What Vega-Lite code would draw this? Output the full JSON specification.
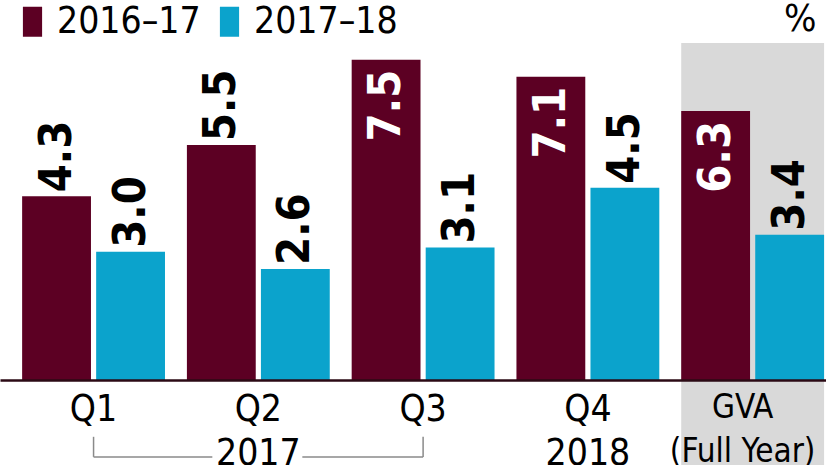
{
  "$schema": "https://vega.github.io/schema/vega-lite/v6.json",
  "width": 826,
  "height": 337,
  "autosize": {"type": "none"},
  "padding": {"top": 43, "left": 0, "right": 0, "bottom": 85},
  "background": "white",
  "config": {"view": {"stroke": null}, "font": "DejaVu Sans Condensed, DejaVu Sans, sans-serif"},
  "datasets": {
    "gva": [
      {"period": "Q1", "series": "2016–17", "value": 4.3},
      {"period": "Q1", "series": "2017–18", "value": 3.0},
      {"period": "Q2", "series": "2016–17", "value": 5.5},
      {"period": "Q2", "series": "2017–18", "value": 2.6},
      {"period": "Q3", "series": "2016–17", "value": 7.5},
      {"period": "Q3", "series": "2017–18", "value": 3.1},
      {"period": "Q4", "series": "2016–17", "value": 7.1},
      {"period": "Q4", "series": "2017–18", "value": 4.5},
      {"period": "GVA", "series": "2016–17", "value": 6.3},
      {"period": "GVA", "series": "2017–18", "value": 3.4}
    ],
    "band": [{"period": "GVA"}],
    "year": [{"from": "Q1", "mid": "Q2", "to": "Q3", "label": "2017"}]
  },
  "layer": [
    {
      "data": {"name": "band"},
      "mark": {"type": "bar", "color": "#d9d9d9"},
      "encoding": {
        "x": {"field": "period", "type": "nominal", "sort": ["Q1", "Q2", "Q3", "Q4", "GVA"],
          "scale": {"domain": ["Q1", "Q2", "Q3", "Q4", "GVA"], "paddingInner": 0.133, "paddingOuter": 0.073, "align": 0.92},
          "axis": {"title": null, "zindex": 1, "domainColor": "#2b0a14", "domainWidth": 2.5, "ticks": false, "labelAngle": 0,
            "labelFontSize": {"condition": {"test": "datum.value == 'GVA'", "value": 33}, "value": 37},
            "labelOffset": {"condition": {"test": "datum.value == 'GVA'", "value": -10}, "value": 0},
            "labelColor": "black", "labelFont": "DejaVu Sans Condensed, DejaVu Sans, sans-serif", "labelBaseline": "top", "labelPadding": 11, "labelLineHeight": 44,
            "labelExpr": "datum.value == 'Q2' ? ['Q2','2017'] : datum.value == 'Q4' ? ['Q4','2018'] : datum.value == 'GVA' ? ['GVA','(Full Year)'] : datum.value"}},
        "y": {"datum": 7.89, "type": "quantitative", "scale": {"domain": [0, 7.89], "nice": false, "zero": true},
          "axis": {"orient": "right", "domain": false, "ticks": false, "labels": false, "grid": false,
            "title": "%", "titleAngle": 0, "titleX": -10, "titleY": -5, "titleAlign": "right", "titleBaseline": "bottom",
            "titleFontSize": 38, "titleFontWeight": "normal", "titleColor": "black", "titleFont": "DejaVu Sans Condensed, DejaVu Sans, sans-serif"}},
        "y2": {"datum": -2.0}
      }
    },
    {
      "data": {"name": "gva"},
      "mark": {"type": "bar"},
      "encoding": {
        "x": {"field": "period", "type": "nominal"},
        "xOffset": {"field": "series", "type": "nominal", "scale": {"paddingInner": 0.07, "paddingOuter": 0}},
        "y": {"field": "value", "type": "quantitative"},
        "color": {"field": "series", "type": "nominal",
          "scale": {"domain": ["2016–17", "2017–18"], "range": ["#5c0023", "#0ba3cc"]},
          "legend": {"orient": "none", "legendX": 14, "legendY": -40, "direction": "horizontal", "title": null,
            "symbolType": "M-0.64,-1H0.64V1H-0.64Z", "symbolSize": 900, "symbolStrokeWidth": 0, "symbolOpacity": 1,
            "labelFontSize": 37, "labelFont": "DejaVu Sans Condensed, DejaVu Sans, sans-serif", "labelColor": "black", "labelLimit": 0,
            "labelOffset": 6, "columnPadding": 10, "padding": 0}}
      }
    },
    {
      "data": {"name": "gva"},
      "transform": [{"filter": "datum.value <= 6"}],
      "mark": {"type": "text", "angle": 270, "align": "left", "baseline": "middle", "dx": 4, "fontSize": 45, "fontWeight": "bold", "color": "black", "font": "DejaVu Sans Condensed, DejaVu Sans, sans-serif"},
      "encoding": {
        "x": {"field": "period", "type": "nominal"},
        "xOffset": {"field": "series", "type": "nominal"},
        "y": {"field": "value", "type": "quantitative"},
        "text": {"field": "value", "type": "quantitative", "format": ".1f"}
      }
    },
    {
      "data": {"name": "gva"},
      "transform": [{"filter": "datum.value > 6"}],
      "mark": {"type": "text", "angle": 270, "align": "right", "baseline": "middle", "dx": -10, "fontSize": 45, "fontWeight": "bold", "color": "white", "font": "DejaVu Sans Condensed, DejaVu Sans, sans-serif"},
      "encoding": {
        "x": {"field": "period", "type": "nominal"},
        "xOffset": {"field": "series", "type": "nominal"},
        "y": {"field": "value", "type": "quantitative"},
        "text": {"field": "value", "type": "quantitative", "format": ".1f"}
      }
    },
    {
      "data": {"name": "year"},
      "mark": {"type": "rule", "color": "#8a8a8a", "strokeWidth": 1.5},
      "encoding": {"x": {"field": "from", "type": "nominal"}, "y": {"datum": -1.33}, "y2": {"datum": -1.8}}
    },
    {
      "data": {"name": "year"},
      "mark": {"type": "rule", "color": "#8a8a8a", "strokeWidth": 1.5},
      "encoding": {"x": {"field": "to", "type": "nominal"}, "y": {"datum": -1.33}, "y2": {"datum": -1.8}}
    },
    {
      "data": {"name": "year"},
      "mark": {"type": "rule", "color": "#8a8a8a", "strokeWidth": 1.5, "x2Offset": -46},
      "encoding": {"x": {"field": "from", "type": "nominal"}, "x2": {"field": "mid"}, "y": {"datum": -1.8}}
    },
    {
      "data": {"name": "year"},
      "mark": {"type": "rule", "color": "#8a8a8a", "strokeWidth": 1.5, "xOffset": 44},
      "encoding": {"x": {"field": "mid", "type": "nominal"}, "x2": {"field": "to"}, "y": {"datum": -1.8}}
    }
  ]
}
